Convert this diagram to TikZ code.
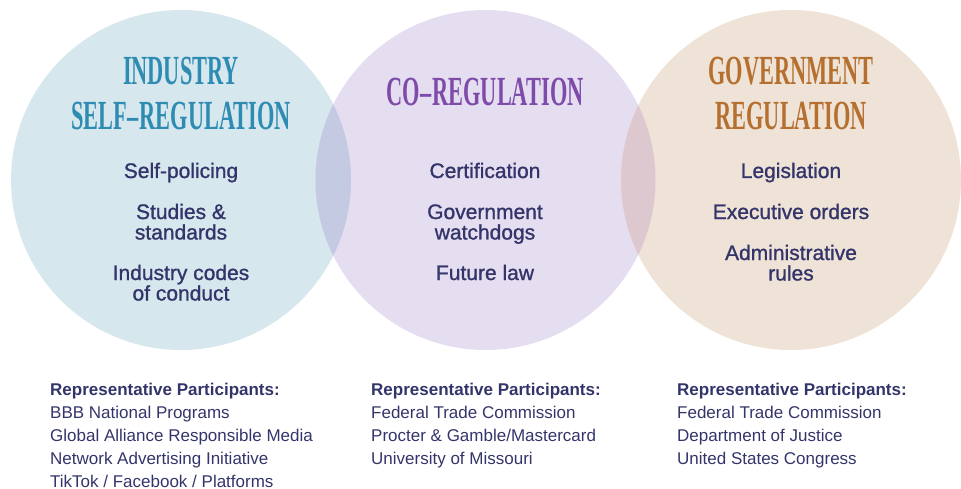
\documentclass[tikz,border=0pt]{standalone}
\usepackage{fontspec}
\setmainfont{Liberation Sans}
\newfontfamily\titlefont[Ligatures=TeX]{Liberation Serif}
\newfontfamily\medfont[FakeBold=1.1]{Liberation Sans}
\definecolor{cblue}{HTML}{D6E7EE}
\definecolor{cpurple}{HTML}{E5DDF0}
\definecolor{ctan}{HTML}{EFE2D6}
\definecolor{ovbp}{HTML}{C3CAE2}
\definecolor{ovpt}{HTML}{DCC8CE}
\definecolor{tblue}{HTML}{2E8BB2}
\definecolor{tpurple}{HTML}{7E4BAA}
\definecolor{ttan}{HTML}{B5702F}
\definecolor{navy}{HTML}{33356A}
\newcommand{\ttl}[1]{\scalebox{0.54}[1]{#1}}
\begin{document}
\begin{tikzpicture}[x=1pt,y=-1pt,
  titletext/.style={anchor=base,inner sep=0pt,font=\titlefont\bfseries\fontsize{41.4}{41.4}\selectfont},
  itemtext/.style={anchor=base,inner sep=0pt,text=navy,font=\medfont\fontsize{21}{21}\selectfont},
  headtext/.style={anchor=base west,inner sep=0pt,text=navy,font=\bfseries\fontsize{17}{17}\selectfont},
  listtext/.style={anchor=base west,inner sep=0pt,text=navy,font=\fontsize{17}{17}\selectfont}]
\useasboundingbox (0,0) rectangle (961,489);
% circles
\fill[cblue] (181,180) circle (170);
\fill[cpurple] (485.5,180) circle (170);
\fill[ctan] (791,180) circle (170);
\begin{scope}
  \clip (181,180) circle (170);
  \fill[ovbp] (485.5,180) circle (170);
\end{scope}
\begin{scope}
  \clip (485.5,180) circle (170);
  \fill[ovpt] (791,180) circle (170);
\end{scope}
% titles
\node[titletext,text=tblue] (t1a) at (181,85) {\ttl{INDUSTRY}};
\node[titletext,text=tblue] (t1b) at (181,130) {\ttl{SELF\kern0.03em\textendash\kern0.03em REGULATION}};
\node[titletext,text=tpurple] (t2) at (485,106) {\ttl{CO\kern0.03em\textendash\kern0.03em REGULATION}};
\node[titletext,text=ttan] (t3a) at (791,85) {\ttl{GOVERNMENT}};
\node[titletext,text=ttan] (t3b) at (791,130) {\ttl{REGULATION}};
% left items
\node[itemtext] (l1) at (181,178) {Self-policing};
\node[itemtext] (l2) at (181,219) {Studies \&};
\node[itemtext] (l3) at (181,239.5) {standards};
\node[itemtext] (l4) at (181,280) {Industry codes};
\node[itemtext] (l5) at (181,300.5) {of conduct};
% middle items
\node[itemtext] (m1) at (485,178) {Certification};
\node[itemtext] (m2) at (485,219) {Government};
\node[itemtext] (m3) at (485,239.5) {watchdogs};
\node[itemtext] (m4) at (485,280) {Future law};
% right items
\node[itemtext] (r1) at (791,178) {Legislation};
\node[itemtext] (r2) at (791,219) {Executive orders};
\node[itemtext] (r3) at (791,260) {Administrative};
\node[itemtext] (r4) at (791,280.5) {rules};
% lists
\node[headtext] (hl) at (50,395) {Representative Participants:};
\node[listtext] (la) at (50,418.5) {BBB National Programs};
\node[listtext] (lb) at (50,441.5) {Global Alliance Responsible Media};
\node[listtext] (lc) at (50,464.5) {Network Advertising Initiative};
\node[listtext] (ld) at (50,487) {TikTok / Facebook / Platforms};
\node[headtext] (hm) at (371,395) {Representative Participants:};
\node[listtext] (ma) at (371,418.5) {Federal Trade Commission};
\node[listtext] (mb) at (371,441.5) {Procter \& Gamble/Mastercard};
\node[listtext] (mc) at (371,464.5) {University of Missouri};
\node[headtext] (hr) at (677,395) {Representative Participants:};
\node[listtext] (ra) at (677,418.5) {Federal Trade Commission};
\node[listtext] (rb) at (677,441.5) {Department of Justice};
\node[listtext] (rc) at (677,464.5) {United States Congress};
\end{tikzpicture}
\end{document}
